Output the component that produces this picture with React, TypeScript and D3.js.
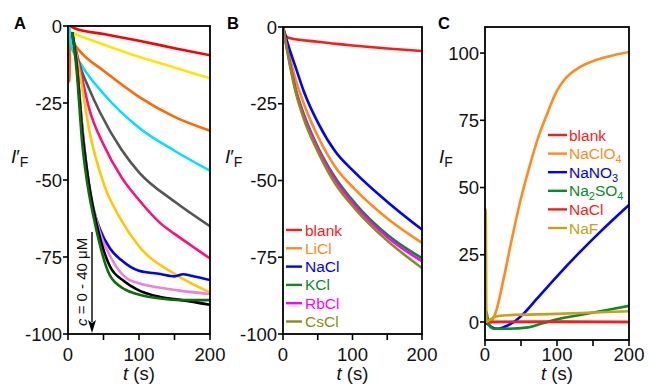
import React from "react";
import * as d3 from "d3";

type Pt = [number, number];

// ---------- Panel A data (t, I'F) : c = 0 - 40 µM ----------
const aRed: Pt[] = [[3, 0], [10, -0.8], [50, -2.6], [100, -4.8], [150, -7.2], [200, -9.5]];
const aYellow: Pt[] = [[4, -2], [20, -3.5], [50, -6], [100, -10], [150, -13.5], [200, -17]];
const aOrange: Pt[] = [[1, 0], [2, -18], [3, -3], [8, -5.5], [20, -9], [50, -14.5], [100, -23], [150, -29.5], [200, -34]];
const aCyan: Pt[] = [[2, 0], [4, -6], [20, -13], [50, -22], [100, -33], [150, -40.5], [200, -47]];
const aGray: Pt[] = [[7, -4], [17, -13], [30, -20.5], [45, -28], [75, -40], [100, -47.5], [150, -57], [200, -65]];
const aPink: Pt[] = [[7, -4], [17, -14], [30, -27], [50, -38.5], [75, -49], [100, -56.5], [130, -64], [150, -67.5], [175, -71.5], [200, -75.5]];
const aGold: Pt[] = [[7, -4], [17, -16], [30, -34], [50, -51], [75, -63], [100, -71.5], [150, -80.5], [200, -86.5]];
const aBlue: Pt[] = [[6, -2], [12, -12], [21, -35], [31, -54], [45, -66], [60, -72.5], [75, -76], [100, -79.5], [130, -80.5], [150, -81.3], [162, -80.6], [175, -81.2], [200, -82.5]];
const aViolet: Pt[] = [[6, -2], [12, -12], [20, -33], [30, -52], [45, -67], [60, -75], [83, -82], [100, -83.5], [130, -85], [160, -86], [200, -87]];
const aBlack: Pt[] = [[6, -2], [12, -12], [20, -34], [30, -52], [40, -64], [59, -78], [80, -83], [97, -85.5], [130, -88], [160, -89], [200, -90.5]];
const aGreen: Pt[] = [[6, -2], [12, -14], [20, -38], [30, -55], [36, -62], [59, -81], [80, -85.5], [97, -87], [130, -88.5], [160, -89], [200, -89]];
const aSeries = [aRed, aYellow, aOrange, aCyan, aGray, aPink, aGold, aBlue, aViolet, aBlack, aGreen];
const aColors = ["#ff0000", "#ffe600", "#ff6a00", "#00e1ff", "#555555", "#ff0f7b", "#ffc800", "#0000ff", "#ee82d8", "#000000", "#0a6e0a"];

// ---------- Panel B data ----------
const bNames = ["blank", "LiCl", "NaCl", "KCl", "RbCl", "CsCl"];
const bColors = ["#ff1a1a", "#ff8c1a", "#0000ff", "#0a8a2a", "#ff00ff", "#8c8c14"];
const bBlank: Pt[] = [[0, 0], [3, -2.5], [8, -3.5], [50, -4.8], [100, -6], [150, -7], [200, -7.8]];
const bLiCl: Pt[] = [[0, 0], [5, -5], [18, -17], [30, -25], [51, -36], [75, -45.5], [104, -53], [152, -62.7], [200, -70.3]];
const bNaCl: Pt[] = [[0, 0], [5, -4], [18, -13], [30, -21], [51, -31.5], [75, -40.5], [104, -47.5], [152, -57.3], [200, -66]];
const bKCl: Pt[] = [[0, 0], [5, -6], [18, -20], [30, -28.5], [51, -39.5], [75, -49], [104, -57.5], [152, -68], [200, -75.3]];
const bRbCl: Pt[] = [[0, 0], [5, -6.2], [18, -20.5], [30, -29], [51, -40], [75, -49.8], [104, -58.3], [152, -68.8], [200, -76.3]];
const bCsCl: Pt[] = [[0, 0], [5, -6.5], [18, -21], [30, -30], [51, -41], [75, -51], [104, -59.3], [152, -70], [200, -78.5]];
const bSeries = [bBlank, bLiCl, bNaCl, bKCl, bRbCl, bCsCl];

// ---------- Panel C data ----------
const cNames: [string, string, string][] = [
  ["blank", "", ""], ["NaClO", "4", ""], ["NaNO", "3", ""], ["Na", "2", "SO4"], ["NaCl", "", ""], ["NaF", "", ""],
];
const cColors = ["#ff1a1a", "#ff8c1a", "#0000ff", "#0a8a2a", "#ff1a1a", "#c8a010"];
const cBlank: Pt[] = [[0, 0], [200, 0]];
const cNaClO4: Pt[] = [[0, 0], [5, -1], [10, 0.5], [16, 4.5], [25, 15], [39, 33], [50, 46], [62, 58], [75, 69.5], [85, 76.5], [100, 86], [110, 90], [130, 94.5], [155, 97.5], [180, 99.3], [200, 100.4]];
const cNaNO3: Pt[] = [[0, 0], [5, -1], [10, -2], [18, -2.5], [30, -1.5], [40, 0], [55, 3.5], [70, 8], [100, 17], [130, 25.5], [160, 33.5], [200, 43.5]];
const cNa2SO4: Pt[] = [[0, 0], [2, 4], [5, -1], [12, -2.5], [30, -2.5], [60, -2], [80, -0.5], [100, 1], [130, 2.5], [160, 4], [200, 6]];
const cNaCl: Pt[] = [[0, 0], [100, 0.2], [200, 0]];
const cNaF: Pt[] = [[0, 0], [1, 42], [2, 0], [5, 0.5], [15, 2], [30, 2.5], [100, 3], [150, 3.5], [200, 4]];
const cSeries = [cBlank, cNaClO4, cNaNO3, cNa2SO4, cNaCl, cNaF];

const xTicks = [0, 50, 100, 150, 200];
const xLabels = [0, 100, 200];
const yTicksAB = [0, -25, -50, -75, -100];
const yTicksC = [0, 25, 50, 75, 100];

const FONT = "Liberation Sans, Arial, sans-serif";

function Panel(props: {
  x0: number; x1: number; yTop: number; yBot: number; yDomain: [number, number];
  yTicks: number[]; series: Pt[][]; colors: string[]; letter: string; letterX: number;
  ylabelX: number; prime: boolean; clipId: string; children?: React.ReactNode;
}) {
  const { x0, x1, yTop, yBot, yDomain, yTicks, series, colors, letter, letterX, ylabelX, prime, clipId } = props;
  const xs = d3.scaleLinear().domain([0, 200]).range([x0, x1]);
  const ys = d3.scaleLinear().domain(yDomain).range([yBot, yTop]);
  const line = d3.line<Pt>().x((d) => xs(d[0])).y((d) => ys(d[1])).curve(d3.curveMonotoneX);
  return (
    <g>
      <defs>
        <clipPath id={clipId}>
          <rect x={x0} y={yTop} width={x1 - x0} height={yBot - yTop} />
        </clipPath>
      </defs>
      <g clipPath={`url(#${clipId})`}>
        {series.map((s, i) => (
          <path key={i} d={line(s) || ""} fill="none" stroke={colors[i]} strokeWidth={2.6} strokeLinejoin="round" />
        ))}
      </g>
      <rect x={x0} y={yTop} width={x1 - x0} height={yBot - yTop} fill="none" stroke="#000" strokeWidth={1.8} />
      {yTicks.map((t) => (
        <g key={t}>
          <line x1={x0 - 5} x2={x0} y1={ys(t)} y2={ys(t)} stroke="#000" strokeWidth={1.6} />
          <text x={x0 - 6} y={ys(t)} dy="0.36em" textAnchor="end" fontSize={18.5} fontFamily={FONT} fill="#111">
            {t}
          </text>
        </g>
      ))}
      {xTicks.map((t) => (
        <line key={t} x1={xs(t)} x2={xs(t)} y1={yBot} y2={yBot + 6} stroke="#000" strokeWidth={1.6} />
      ))}
      {xLabels.map((t) => (
        <text key={t} x={xs(t)} y={361} textAnchor="middle" fontSize={18.5} fontFamily={FONT} fill="#111">
          {t}
        </text>
      ))}
      <text x={(x0 + x1) / 2} y={380} textAnchor="middle" fontSize={18.5} fontFamily={FONT} fill="#111">
        <tspan fontStyle="italic">t</tspan> (s)
      </text>
      <text x={ylabelX} y={163} fontSize={19} fontFamily={FONT} fill="#111">
        <tspan fontStyle="italic">I</tspan>
        {prime ? <tspan>′</tspan> : null}
        <tspan fontSize={14} dy={4}>F</tspan>
      </text>
      <text x={letterX} y={29} fontSize={16.5} fontWeight="bold" fontFamily={FONT} fill="#000">
        {letter}
      </text>
      {props.children}
    </g>
  );
}

export default function App() {
  const legendB = bNames.map((n, i) => (
    <g key={n}>
      <line x1={286} x2={302} y1={230 + i * 18.3} y2={230 + i * 18.3} stroke={bColors[i]} strokeWidth={2.4} />
      <text x={305} y={230 + i * 18.3} dy="0.36em" fontSize={15.5} fontFamily={FONT} fill={bColors[i]}>{n}</text>
    </g>
  ));
  const legendC = cNames.map((n, i) => (
    <g key={i}>
      <line x1={548} x2={567} y1={135 + i * 18.6} y2={135 + i * 18.6} stroke={cColors[i]} strokeWidth={2.4} />
      <text x={569} y={135 + i * 18.6} dy="0.36em" fontSize={15.5} fontFamily={FONT} fill={cColors[i]}>
        {n[0]}
        {n[1] ? <tspan fontSize={11} dy={4}>{n[1]}</tspan> : null}
        {n[2] ? (
          <>
            <tspan dy={-4}>SO</tspan>
            <tspan fontSize={11} dy={4}>4</tspan>
          </>
        ) : null}
      </text>
    </g>
  ));
  return (
    <svg width={649} height={386} style={{ position: "absolute", left: 0, top: 0, background: "#fff" }}>
      <Panel x0={68} x1={210} yTop={26} yBot={334} yDomain={[-100, 0]} yTicks={yTicksAB} series={aSeries} colors={aColors}
        letter="A" letterX={14} ylabelX={11} prime={true} clipId="clipA">
        <line x1={92} x2={92} y1={232} y2={322} stroke="#000" strokeWidth={1.4} />
        <path d="M88,320 L92,333 L96,320 L92,323 Z" fill="#000" />
        <text transform="translate(87,326) rotate(-90)" fontSize={15} fontFamily={FONT} fill="#111">
          <tspan fontStyle="italic">c</tspan> = 0 - 40 μM
        </text>
      </Panel>
      <Panel x0={283} x1={422} yTop={27} yBot={334} yDomain={[-100, 0]} yTicks={yTicksAB} series={bSeries} colors={bColors}
        letter="B" letterX={227} ylabelX={225} prime={true} clipId="clipB">
        {legendB}
      </Panel>
      <Panel x0={485} x1={629} yTop={27} yBot={340} yDomain={[-6.7, 109.7]} yTicks={yTicksC} series={cSeries} colors={cColors}
        letter="C" letterX={438} ylabelX={439} prime={false} clipId="clipC">
        {legendC}
      </Panel>
    </svg>
  );
}
